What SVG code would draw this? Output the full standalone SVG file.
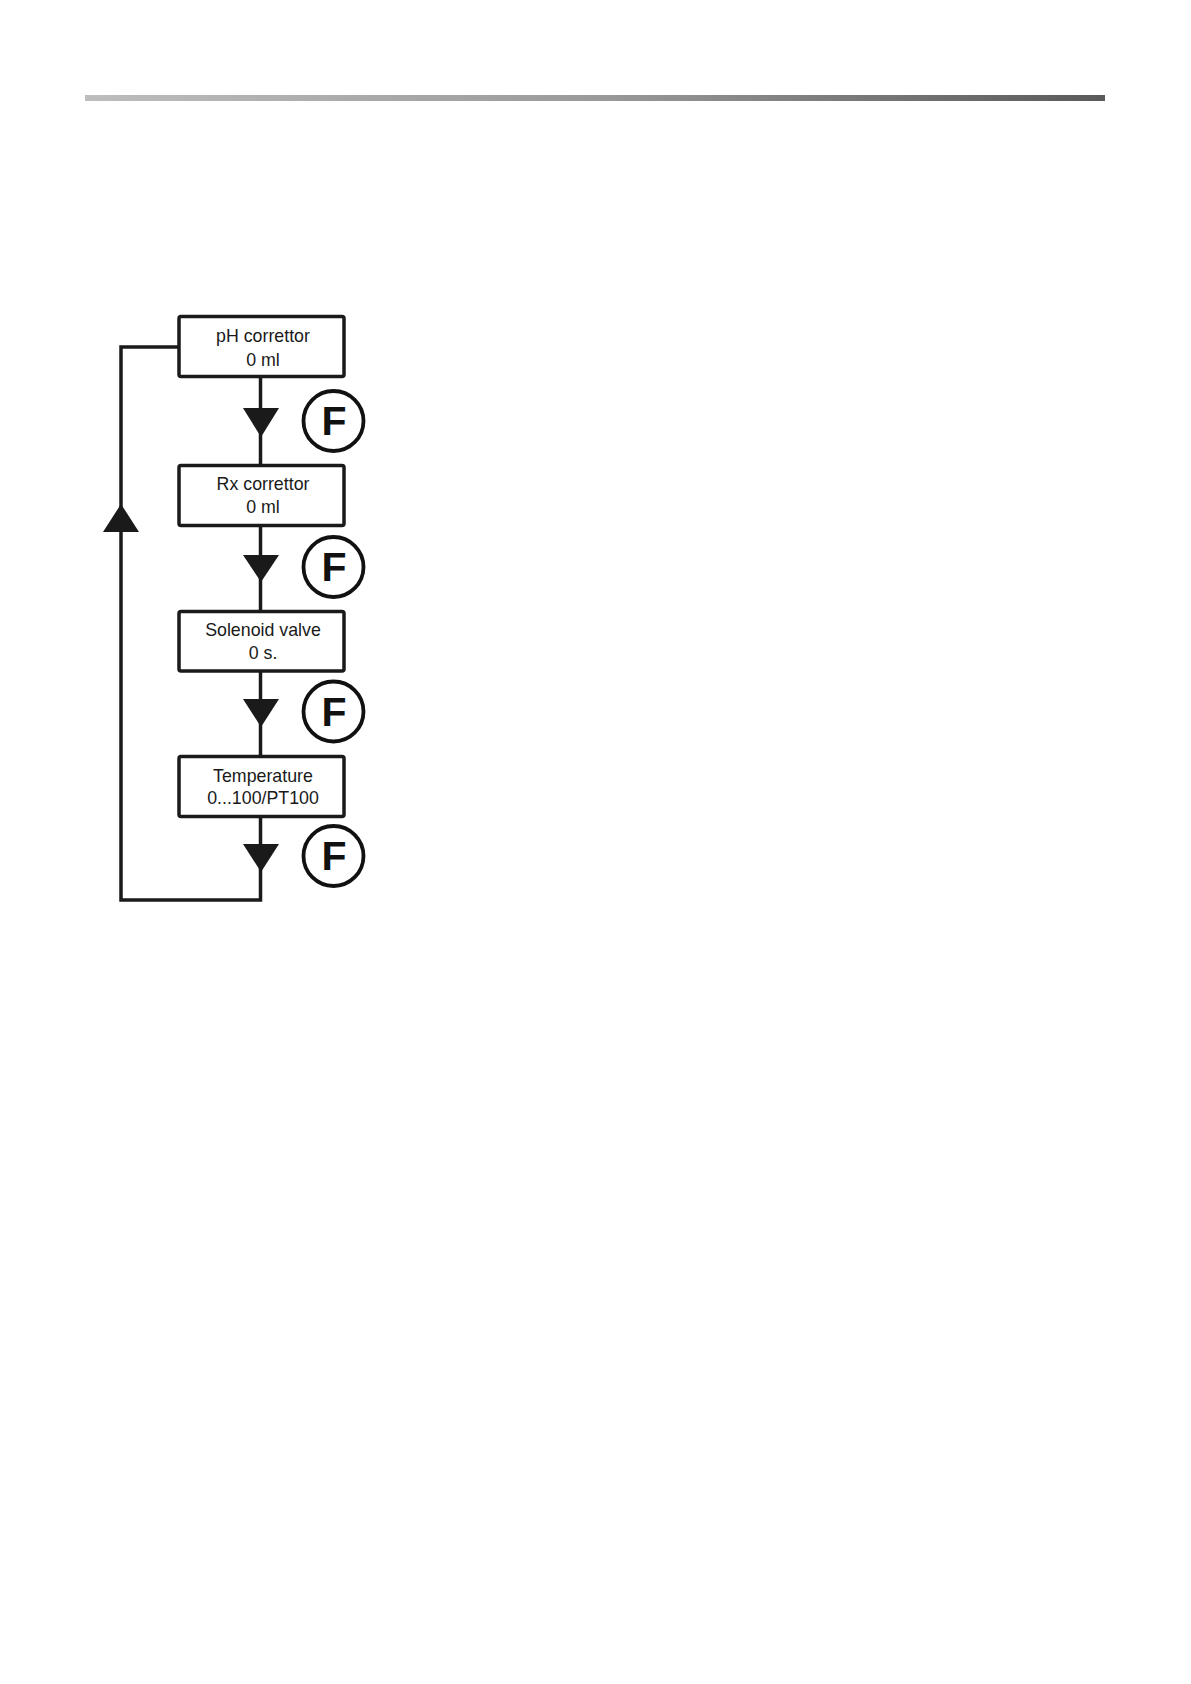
<svg xmlns="http://www.w3.org/2000/svg" width="1191" height="1684" viewBox="0 0 1191 1684">
<defs>
<linearGradient id="bar" x1="0" y1="0" x2="1" y2="0">
<stop offset="0" stop-color="#bdbdbd"/>
<stop offset="0.5" stop-color="#9a9a9a"/>
<stop offset="1" stop-color="#5a5a5a"/>
</linearGradient>
<style>
.box{fill:#fff;stroke:#1a1a1a;stroke-width:3.5}
.lbl{font-family:"Liberation Sans",Arial,sans-serif;font-size:17.8px;fill:#1a1a1a;text-anchor:middle}
.line{fill:none;stroke:#1a1a1a;stroke-width:3.5;stroke-linejoin:miter}
.tri{fill:#1a1a1a}
.fc{fill:#fff;stroke:#111;stroke-width:3.8}
.ft{font-family:"Liberation Sans",Arial,sans-serif;font-weight:bold;font-size:41px;fill:#111;text-anchor:middle}
</style>
</defs>
<rect width="1191" height="1684" fill="#fff"/>
<rect x="85" y="95" width="1020" height="6" fill="url(#bar)"/>

<g id="connectors">
<line class="line" x1="260.5" y1="377" x2="260.5" y2="465"/>
<line class="line" x1="260.5" y1="526" x2="260.5" y2="611"/>
<line class="line" x1="260.5" y1="671" x2="260.5" y2="756"/>
<polyline class="line" points="260.5,816 260.5,900 121,900 121,347 179,347"/>
<polygon class="tri" points="243,408 279,408 261,437"/>
<polygon class="tri" points="243,555 279,555 261,582"/>
<polygon class="tri" points="243,699 279,699 261,727"/>
<polygon class="tri" points="243,844 279,844 261,872"/>
<polygon class="tri" points="103,532 139,532 121,504"/>
</g>

<g id="node-ph">
<rect class="box" x="179" y="316.5" width="165" height="60" rx="2"/>
<text class="lbl" x="263" y="342">pH correttor</text>
<text class="lbl" x="263" y="366">0 ml</text>
</g>
<g id="node-rx">
<rect class="box" x="179" y="465.5" width="165" height="60" rx="2"/>
<text class="lbl" x="263" y="490">Rx correttor</text>
<text class="lbl" x="263" y="513">0 ml</text>
</g>
<g id="node-valve">
<rect class="box" x="179" y="611.5" width="165" height="59.5" rx="2"/>
<text class="lbl" x="263" y="636">Solenoid valve</text>
<text class="lbl" x="263" y="659">0 s.</text>
</g>
<g id="node-temp">
<rect class="box" x="179" y="756.5" width="165" height="60" rx="2"/>
<text class="lbl" x="263" y="782">Temperature</text>
<text class="lbl" x="263" y="804">0...100/PT100</text>
</g>

<g id="f1"><circle class="fc" cx="333.5" cy="421" r="30"/><text class="ft" x="334" y="435">F</text></g>
<g id="f2"><circle class="fc" cx="333.5" cy="567" r="30"/><text class="ft" x="334" y="581">F</text></g>
<g id="f3"><circle class="fc" cx="333.5" cy="711.5" r="30"/><text class="ft" x="334" y="725.5">F</text></g>
<g id="f4"><circle class="fc" cx="333.5" cy="856" r="30"/><text class="ft" x="334" y="870">F</text></g>
</svg>
